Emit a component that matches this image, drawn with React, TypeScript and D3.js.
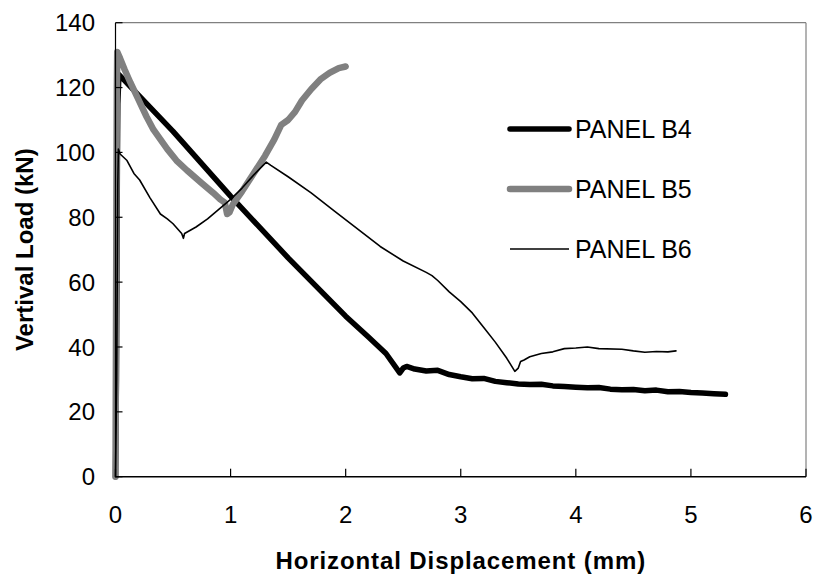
import React from "react";
import * as d3 from "d3";

// Horizontal displacement (mm) / vertical load (kN) for each panel test
const b4Disp = [0, 0.008, 0.012, 0.016, 0.02, 0.03, 0.5, 1.0, 1.5, 2.0, 2.2, 2.35, 2.47, 2.5, 2.53, 2.6, 2.7, 2.8, 2.9, 3.0, 3.1, 3.2, 3.3, 3.4, 3.5, 3.6, 3.7, 3.8, 3.9, 4.0, 4.1, 4.2, 4.3, 4.4, 4.5, 4.6, 4.7, 4.8, 4.9, 5.0, 5.1, 5.2, 5.3];
const b4Load = [0, 30, 60, 95, 115, 124, 106.5, 86.5, 67.5, 49.5, 43, 38, 32, 33.5, 34, 33.2, 32.6, 32.8, 31.5, 30.8, 30.2, 30.3, 29.4, 29, 28.6, 28.4, 28.5, 28, 27.8, 27.6, 27.4, 27.5, 27, 26.8, 26.9, 26.5, 26.7, 26.2, 26.3, 26, 25.8, 25.6, 25.4];

const b5Disp = [0, 0.004, 0.008, 0.012, 0.015, 0.04, 0.08, 0.13, 0.21, 0.27, 0.33, 0.39, 0.45, 0.53, 0.62, 0.75, 0.85, 0.91, 0.95, 0.97, 0.99, 1.02, 1.1, 1.2, 1.3, 1.38, 1.44, 1.5, 1.56, 1.62, 1.7, 1.78, 1.86, 1.94, 2.0];
const b5Load = [0, 40, 85, 120, 131, 129, 125.5, 121.5, 115.5, 111, 107, 104, 101, 97.5, 94.5, 90.5, 87.5, 85.5, 84.5, 81, 81.5, 84, 88, 93.5, 99, 104, 108.5, 110, 112.5, 116, 119.5, 122.5, 124.5, 126, 126.5];

const b6Disp = [0, 0.01, 0.015, 0.02, 0.025, 0.04, 0.1, 0.16, 0.21, 0.3, 0.39, 0.45, 0.5, 0.55, 0.575, 0.59, 0.6, 0.7, 0.8, 0.9, 1.0, 1.1, 1.2, 1.31, 1.35, 1.5, 1.7, 1.9, 2.1, 2.3, 2.5, 2.7, 2.75, 2.8, 2.9, 3.0, 3.1, 3.2, 3.3, 3.4, 3.47, 3.5, 3.52, 3.55, 3.6, 3.7, 3.8, 3.9, 4.0, 4.1, 4.2, 4.4, 4.5, 4.6, 4.7, 4.8, 4.87];
const b6Load = [0, 30, 60, 90, 101, 99.5, 97.5, 93.5, 91.5, 86, 81, 79.5, 78, 76, 75, 73.5, 75, 77, 79.5, 82.5, 85.5, 89, 93, 97, 96, 92.5, 87.5, 82, 76.5, 71, 66.5, 63, 62, 60.5, 57, 54, 50.5, 46, 41.5, 36.5, 32.5, 33.5, 35.5, 36, 37, 38, 38.5, 39.5, 39.7, 40, 39.5, 39.3, 38.8, 38.4, 38.6, 38.5, 38.8];

const seriesNames = ["PANEL B4", "PANEL B5", "PANEL B6"];
const xTicks = [0, 1, 2, 3, 4, 5, 6];
const yTicks = [0, 20, 40, 60, 80, 100, 120, 140];

const xTitle = "Horizontal Displacement (mm)";
const yTitle = "Vertival Load (kN)";

const W = 817;
const H = 578;
const plot = { left: 115.5, right: 806, top: 22.7, bottom: 476.7 };

const styles = [
  { color: "#000000", width: 5.5 },
  { color: "#808080", width: 6.5 },
  { color: "#000000", width: 1.6 },
];

const font = "'Liberation Sans', Arial, Helvetica, sans-serif";

export default function App() {
  const x = d3.scaleLinear().domain([0, 6]).range([plot.left, plot.right]);
  const y = d3.scaleLinear().domain([0, 140]).range([plot.bottom, plot.top]);

  const line = d3
    .line<[number, number]>()
    .x((d) => x(d[0]))
    .y((d) => y(d[1]));

  const zip = (a: number[], b: number[]) => a.map((v, i) => [v, b[i]] as [number, number]);
  const series = [zip(b4Disp, b4Load), zip(b5Disp, b5Load), zip(b6Disp, b6Load)];

  const legendX1 = 510;
  const legendX2 = 569;
  const legendY = [129, 189, 249];

  return (
    <svg
      width={W}
      height={H}
      style={{ position: "absolute", left: 0, top: 0, background: "#fff" }}
      fontFamily={font}
    >
      <rect x={0} y={0} width={W} height={H} fill="#fff" />

      {/* plot frame: top and right edges */}
      <line x1={plot.left} y1={plot.top} x2={plot.right} y2={plot.top} stroke="#808080" strokeWidth={1.2} />
      <line x1={plot.right} y1={plot.top} x2={plot.right} y2={plot.bottom} stroke="#808080" strokeWidth={1.2} />

      {/* curves */}
      {series.map((s, i) => (
        <path
          key={i}
          d={line(s) || ""}
          fill="none"
          stroke={styles[i].color}
          strokeWidth={styles[i].width}
          strokeLinejoin="round"
          strokeLinecap="round"
        />
      ))}

      {/* axes */}
      <line x1={plot.left} y1={plot.top} x2={plot.left} y2={plot.bottom} stroke="#000" strokeWidth={1.2} />
      <line x1={plot.left} y1={plot.bottom} x2={plot.right} y2={plot.bottom} stroke="#000" strokeWidth={1.4} />

      {yTicks.map((t) => (
        <g key={"y" + t}>
          <line x1={plot.left} x2={plot.left + 7} y1={y(t)} y2={y(t)} stroke="#000" strokeWidth={1.2} />
          <text x={95} y={y(t)} dy="0.36em" textAnchor="end" fontSize={24} fill="#000">
            {t}
          </text>
        </g>
      ))}

      {xTicks.map((t) => (
        <g key={"x" + t}>
          <line x1={x(t)} x2={x(t)} y1={plot.bottom} y2={plot.bottom - 8} stroke="#000" strokeWidth={1.2} />
          <text x={x(t)} y={523} textAnchor="middle" fontSize={24} fill="#000">
            {t}
          </text>
        </g>
      ))}

      {/* axis titles */}
      <text
        x={(plot.left + plot.right) / 2}
        y={569}
        textAnchor="middle"
        fontSize={24}
        fontWeight="bold"
        letterSpacing={0.9}
        fill="#000"
      >
        {xTitle}
      </text>
      <text
        transform={`translate(33, ${(plot.top + plot.bottom) / 2}) rotate(-90)`}
        textAnchor="middle"
        fontSize={24}
        fontWeight="bold"
        fill="#000"
      >
        {yTitle}
      </text>

      {/* legend */}
      {seriesNames.map((name, i) => (
        <g key={name}>
          <line
            x1={legendX1}
            x2={legendX2}
            y1={legendY[i]}
            y2={legendY[i]}
            stroke={styles[i].color}
            strokeWidth={styles[i].width}
            strokeLinecap={i < 2 ? "round" : "butt"}
          />
          <text x={575} y={legendY[i]} dy="0.36em" fontSize={25} fill="#000">
            {name}
          </text>
        </g>
      ))}
    </svg>
  );
}
